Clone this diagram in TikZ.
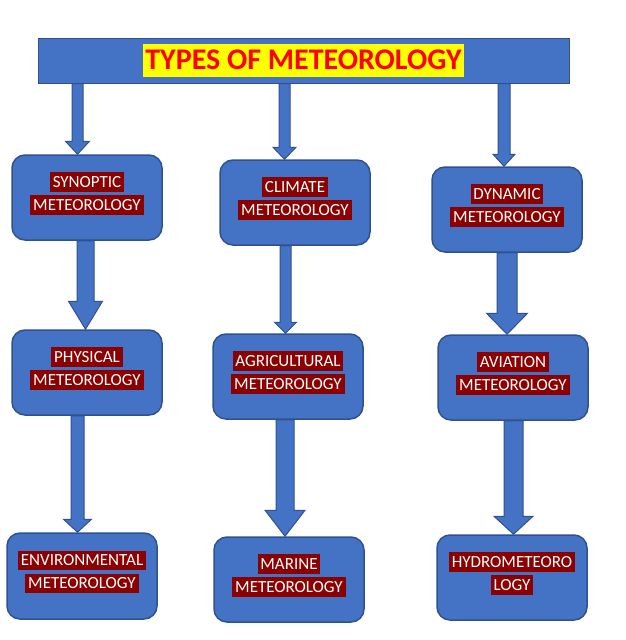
\documentclass[tikz,border=0pt]{standalone}
\usepackage{fontspec}
\setmainfont{Carlito}
\usetikzlibrary{calc}
\definecolor{boxfill}{HTML}{4472C4}
\definecolor{boxline}{HTML}{2F528F}
\definecolor{hlred}{HTML}{8B0000}
\definecolor{titlered}{HTML}{FF0000}
\definecolor{titleyellow}{HTML}{FFFF00}
\newcommand\hlline[1]{{\setlength\fboxsep{0pt}\colorbox{hlred}{\rule[-4.5pt]{0pt}{19.5pt}\,#1\,}}}
% block arrow: start, end, shaft half width, head half width, head length
\newcommand\blockarrow[5]{%
  \path[blockarrowstyle] let \p1=#1, \p2=#2 in
    (\x1-#3,\y1) -- (\x1-#3,\y2+#5) -- (\x1-#4,\y2+#5) -- (\x1,\y2) --
    (\x1+#4,\y2+#5) -- (\x1+#3,\y2+#5) -- (\x1+#3,\y1) -- cycle;}
\tikzset{
  blockarrowstyle/.style={fill=boxfill,draw=boxline,line width=1pt,line join=miter},
  mbox/.style={draw=boxline,fill=boxfill,line width=1.5pt,rounded corners=13pt,
    minimum width=150pt,minimum height=85pt,inner sep=0pt,align=center,
    font=\fontsize{17}{23}\selectfont\color{white},
    execute at end node={\rule[-12.5pt]{0pt}{12.5pt}}},
  titlebar/.style={draw=boxline,fill=boxfill,line width=1pt,minimum width=531pt,
    minimum height=45pt,inner sep=0pt}
}
\begin{document}
\begin{tikzpicture}[x=1pt,y=-1pt]
\useasboundingbox[fill=white] (0,0) rectangle (626,640);
\node[titlebar] (title) at (303.5,60.5) {};
\node[fill=titleyellow,inner xsep=2pt,inner ysep=0pt,minimum height=33pt,
  font=\fontsize{30}{33}\bfseries\selectfont,text=titlered] (titletext) at (303.5,60) {TYPES OF METEOROLOGY};

\node[mbox] (syn) at (87,197.5) {\hlline{SYNOPTIC}\\\hlline{METEOROLOGY}};
\node[mbox] (cli) at (295,202.5) {\hlline{CLIMATE}\\\hlline{METEOROLOGY}};
\node[mbox] (dyn) at (507,209.5) {\hlline{DYNAMIC}\\\hlline{METEOROLOGY}};
\node[mbox] (phy) at (87,372.5) {\hlline{PHYSICAL}\\\hlline{METEOROLOGY}};
\node[mbox] (agr) at (288,376.5) {\hlline{AGRICULTURAL}\\\hlline{METEOROLOGY}};
\node[mbox] (avi) at (513,377.5) {\hlline{AVIATION}\\\hlline{METEOROLOGY}};
\node[mbox,minimum height=86pt] (env) at (82,576) {\hlline{ENVIRONMENTAL}\\\hlline{METEOROLOGY}};
\node[mbox] (mar) at (289,579.5) {\hlline{MARINE}\\\hlline{METEOROLOGY}};
\node[mbox] (hyd) at (512,577.5) {\hlline{HYDROMETEORO}\\\hlline{LOGY}};

% arrows from title bar
\blockarrow{(title.south -| 77.5,0)}{(syn.north -| 77.5,0)}{5.5pt}{12pt}{13pt}
\blockarrow{(title.south -| 284.5,0)}{(cli.north -| 284.5,0)}{5.5pt}{11.5pt}{12pt}
\blockarrow{(title.south -| 504,0)}{(dyn.north -| 504,0)}{6pt}{11pt}{12pt}
% row 1 to row 2
\blockarrow{(syn.south -| 85.5,0)}{(phy.north -| 85.5,0)}{8.5pt}{17pt}{28pt}
\blockarrow{(cli.south -| 285.5,0)}{(agr.north -| 285.5,0)}{5.5pt}{11pt}{11pt}
\blockarrow{(dyn.south -| 507,0)}{(avi.north -| 507,0)}{10pt}{20.5pt}{21pt}
% row 2 to row 3
\blockarrow{(phy.south -| 77.5,0)}{(env.north -| 77.5,0)}{6.5pt}{14pt}{13pt}
\blockarrow{(agr.south -| 285,0)}{(mar.north -| 285,0)}{9pt}{20pt}{26pt}
\blockarrow{(avi.south -| 513.5,0)}{(hyd.north -| 513.5,0)}{9.5pt}{19.5pt}{18pt}
\end{tikzpicture}
\end{document}
